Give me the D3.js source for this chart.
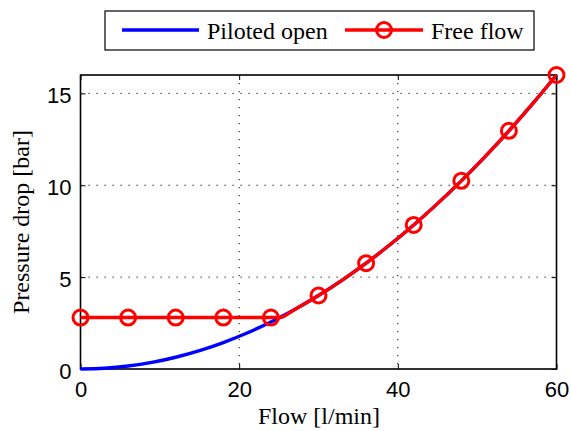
<!DOCTYPE html>
<html>
<head>
<meta charset="utf-8">
<script src="https://cdn.jsdelivr.net/npm/d3@7"></script>
<style>
  html, body { margin: 0; padding: 0; background: #fff; }
  svg { display: block; }
</style>
</head>
<body>
<svg id="chart" width="571" height="431"></svg>
<script>
// Pressure drop vs flow, piloted-open valve and free-flow valve
const pilotedFlow = [0, 3, 6, 9, 12, 15, 18, 21, 24, 27, 30, 33, 36, 39, 42, 45, 48, 51, 54, 57, 60];
const pilotedDrop = [0, 0.04, 0.16, 0.36, 0.64, 1.0, 1.44, 1.96, 2.56, 3.24, 4.0, 4.84, 5.76, 6.76, 7.84, 9.0, 10.24, 11.56, 12.96, 14.44, 16.0];

const freeFlow = [0, 6, 12, 18, 24, 25.1, 27, 30, 33, 36, 39, 42, 45, 48, 51, 54, 57, 60];
const freeDrop = [2.8, 2.8, 2.8, 2.8, 2.8, 2.8, 3.24, 4.0, 4.84, 5.76, 6.76, 7.84, 9.0, 10.24, 11.56, 12.96, 14.44, 16.0];

const markerFlow = [0, 6, 12, 18, 24, 30, 36, 42, 48, 54, 60];
const markerDrop = [2.8, 2.8, 2.8, 2.8, 2.8, 4.0, 5.76, 7.84, 10.24, 12.96, 16.0];

const xTicks = [0, 20, 40, 60];
const yTicks = [0, 5, 10, 15];
const seriesNames = ["Piloted open", "Free flow"];

const svg = d3.select("#chart");
const plotL = 80.5, plotR = 556.5, plotT = 75, plotB = 369;

const x = d3.scaleLinear().domain([0, 60]).range([plotL, plotR]);
const y = d3.scaleLinear().domain([0, 16]).range([plotB, plotT]);

const tickFont = "'Liberation Sans', Arial, sans-serif";
const serif = "'Liberation Serif', 'Times New Roman', serif";

// dotted grid
const grid = svg.append("g");
grid.selectAll("line.gx").data(xTicks.filter(t => t > 0 && t < 60)).join("line")
  .attr("x1", d => x(d)).attr("x2", d => x(d)).attr("y1", plotT).attr("y2", plotB)
  .attr("stroke", "#000").attr("stroke-width", 1).attr("stroke-dasharray", "1.2,6.8");
grid.selectAll("line.gy").data(yTicks.filter(t => t > 0)).join("line")
  .attr("x1", plotL).attr("x2", plotR).attr("y1", d => y(d)).attr("y2", d => y(d))
  .attr("stroke", "#000").attr("stroke-width", 1).attr("stroke-dasharray", "1.2,6.8");

// axes with inward ticks on all four sides
const axisStyle = g => {
  g.select(".domain").remove();
  g.selectAll(".tick line").attr("stroke", "#000").attr("stroke-width", 1);
  g.selectAll(".tick text").attr("font-family", tickFont).attr("font-size", 22).attr("fill", "#000");
};
svg.append("g").attr("transform", `translate(0,${plotB})`)
  .call(d3.axisBottom(x).tickValues(xTicks).tickSize(-5).tickPadding(12).tickFormat(d3.format("d")))
  .call(axisStyle);
svg.append("g").attr("transform", `translate(0,${plotT})`)
  .call(d3.axisTop(x).tickValues(xTicks).tickSize(-5).tickFormat(""))
  .call(axisStyle);
svg.append("g").attr("transform", `translate(${plotL},0)`)
  .call(d3.axisLeft(y).tickValues(yTicks).tickSize(-5).tickPadding(9).tickFormat(d3.format("d")))
  .call(axisStyle)
  .call(g => g.selectAll(".tick text").attr("dy", "0.42em"));
svg.append("g").attr("transform", `translate(${plotR},0)`)
  .call(d3.axisRight(y).tickValues(yTicks).tickSize(-5).tickFormat(""))
  .call(axisStyle);

svg.append("rect").attr("x", plotL).attr("y", plotT)
  .attr("width", plotR - plotL).attr("height", plotB - plotT)
  .attr("fill", "none").attr("stroke", "#000").attr("stroke-width", 1.6);

// series
const line = d3.line().x(d => x(d[0])).y(d => y(d[1])).curve(d3.curveMonotoneX);
svg.append("path")
  .datum(pilotedFlow.map((f, i) => [f, pilotedDrop[i]]))
  .attr("d", line).attr("fill", "none").attr("stroke", "#0000ff").attr("stroke-width", 3.4);
svg.append("path")
  .datum(freeFlow.map((f, i) => [f, freeDrop[i]]))
  .attr("d", line).attr("fill", "none").attr("stroke", "#ff0000").attr("stroke-width", 3.4);
svg.append("g").selectAll("circle")
  .data(markerFlow.map((f, i) => [f, markerDrop[i]]))
  .join("circle")
  .attr("cx", d => x(d[0])).attr("cy", d => y(d[1])).attr("r", 7.5)
  .attr("fill", "none").attr("stroke", "#ff0000").attr("stroke-width", 3);

// axis titles
svg.append("text").attr("x", 319).attr("y", 424)
  .attr("text-anchor", "middle").attr("font-family", serif).attr("font-size", 24)
  .text("Flow [l/min]");
svg.append("text").attr("transform", `translate(29,${(plotT + plotB) / 2}) rotate(-90)`)
  .attr("text-anchor", "middle").attr("font-family", serif).attr("font-size", 24)
  .text("Pressure drop [bar]");

// legend
const lg = svg.append("g");
lg.append("rect").attr("x", 105).attr("y", 11).attr("width", 429).attr("height", 39)
  .attr("fill", "#fff").attr("stroke", "#000").attr("stroke-width", 1.2);
lg.append("line").attr("x1", 122).attr("x2", 199).attr("y1", 30).attr("y2", 30)
  .attr("stroke", "#0000ff").attr("stroke-width", 3.4);
lg.append("text").attr("x", 207).attr("y", 38.5).attr("font-family", serif).attr("font-size", 24)
  .text(seriesNames[0]);
lg.append("line").attr("x1", 345).attr("x2", 423).attr("y1", 30).attr("y2", 30)
  .attr("stroke", "#ff0000").attr("stroke-width", 3.4);
lg.append("circle").attr("cx", 384).attr("cy", 30).attr("r", 7.5)
  .attr("fill", "none").attr("stroke", "#ff0000").attr("stroke-width", 3);
lg.append("text").attr("x", 431).attr("y", 38.5).attr("font-family", serif).attr("font-size", 24)
  .text(seriesNames[1]);
</script>
</body>
</html>
